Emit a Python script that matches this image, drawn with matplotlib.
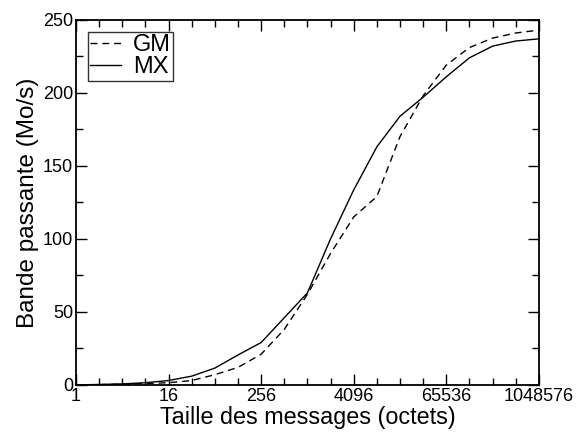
import numpy as np
import matplotlib.pyplot as plt
from matplotlib.ticker import FixedLocator, FixedFormatter, MultipleLocator, NullFormatter

plt.rcParams['font.family'] = ['Liberation Sans', 'DejaVu Sans']

# message sizes: powers of two from 1 to 1048576 bytes
sizes = [2 ** k for k in range(21)]
gm = [0, 0.2, 0.5, 1, 1.5, 3, 7, 12, 21, 38, 62, 90, 115, 129, 170, 198,
      219, 231, 237.5, 241, 243]
mx = [0, 0.3, 0.7, 1.5, 3, 6, 11.5, 20.5, 29, 46, 63, 100, 133.5, 163, 184, 197,
      211, 224, 232, 235.5, 237]
xtick_labels = ['1', '16', '256', '4096', '65536', '1048576']

fig = plt.figure(figsize=(5.8, 4.32), dpi=100)
ax = fig.add_axes([0.131, 0.109, 0.798, 0.845])

ax.plot(sizes, gm, color='black', lw=1.0, linestyle=(0, (5, 3.5)), label='GM')
ax.plot(sizes, mx, color='black', lw=1.0, label='MX')

ax.set_xscale('log', base=2)
ax.set_xlim(1, 2 ** 20)
ax.set_ylim(0, 250)

ax.xaxis.set_major_locator(FixedLocator([16 ** i for i in range(6)]))
ax.xaxis.set_major_formatter(FixedFormatter(xtick_labels))
ax.xaxis.set_minor_locator(FixedLocator(sizes))
ax.xaxis.set_minor_formatter(NullFormatter())
ax.yaxis.set_major_locator(MultipleLocator(50))
ax.yaxis.set_minor_locator(MultipleLocator(25))

ax.tick_params(which='both', direction='in', top=True, right=True,
               labelsize=13, width=1.0, pad=2)
ax.tick_params(which='major', length=8)
ax.tick_params(which='minor', length=5)
for s in ax.spines.values():
    s.set_linewidth(1.3)

ax.set_xlabel('Taille des messages (octets)', fontsize=16.8, labelpad=1)
ax.set_ylabel('Bande passante (Mo/s)', fontsize=17.5, labelpad=3)

leg = ax.legend(loc='upper left', fontsize=17, frameon=True, fancybox=False,
                edgecolor='black', borderpad=0.1, handlelength=1.3,
                handletextpad=0.5, labelspacing=0.0, borderaxespad=0,
                bbox_to_anchor=(0.026, 0.967))
leg.get_frame().set_linewidth(1.0)

fig.savefig('out.png', dpi=100)
